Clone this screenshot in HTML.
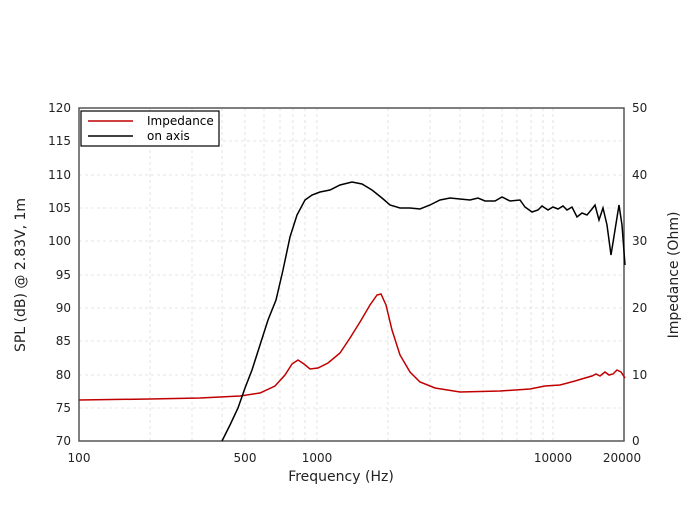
<!DOCTYPE html><html><head><style>body{margin:0;background:#fff}svg{font-family:"DejaVu Sans","Liberation Sans",sans-serif}</style></head><body>
<svg width="700" height="525" xmlns="http://www.w3.org/2000/svg">
<g stroke="#ddd" stroke-width="0.8" stroke-dasharray="3,3">
<line x1="79" y1="375" x2="624" y2="375"/><line x1="79" y1="408" x2="624" y2="408"/><line x1="79" y1="341" x2="624" y2="341"/><line x1="79" y1="308" x2="624" y2="308"/><line x1="79" y1="275" x2="624" y2="275"/><line x1="79" y1="241" x2="624" y2="241"/><line x1="79" y1="208" x2="624" y2="208"/><line x1="79" y1="175" x2="624" y2="175"/><line x1="79" y1="141" x2="624" y2="141"/>
<line x1="150" y1="108" x2="150" y2="441"/><line x1="192" y1="108" x2="192" y2="441"/><line x1="222" y1="108" x2="222" y2="441"/><line x1="245" y1="108" x2="245" y2="441"/><line x1="264" y1="108" x2="264" y2="441"/><line x1="280" y1="108" x2="280" y2="441"/><line x1="293" y1="108" x2="293" y2="441"/><line x1="305" y1="108" x2="305" y2="441"/><line x1="317" y1="108" x2="317" y2="441"/><line x1="388" y1="108" x2="388" y2="441"/><line x1="430" y1="108" x2="430" y2="441"/><line x1="460" y1="108" x2="460" y2="441"/><line x1="483" y1="108" x2="483" y2="441"/><line x1="502" y1="108" x2="502" y2="441"/><line x1="517" y1="108" x2="517" y2="441"/><line x1="531" y1="108" x2="531" y2="441"/><line x1="543" y1="108" x2="543" y2="441"/><line x1="553" y1="108" x2="553" y2="441"/>
</g>
<rect x="79" y="108" width="545" height="333" fill="none" stroke="#555" stroke-width="1.5"/>
<polyline fill="none" stroke="#c00000" stroke-width="1.5" points="79,400 150,399 200,398 240,396 260,393 275,386 285,375 292,364 298,360 304,364 310,369 318,368 328,363 340,353 350,338 360,322 370,305 377,295 381,294 386,305 392,330 400,355 410,372 420,382 435,388 460,392 500,391 530,389 545,386 560,385 575,381 585,378 592,376 596,374 600,376 605,372 609,375 613,374 617,370 621,372 625,378"/>
<polyline fill="none" stroke="#000" stroke-width="1.5" points="222,441 230,425 238,408 245,388 252,370 260,345 268,320 276,300 283,270 290,237 297,215 305,200 312,195 320,192 330,190 340,185 352,182 362,184 372,190 382,198 390,205 400,208 410,208 420,209 430,205 440,200 450,198 460,199 470,200 478,198 485,201 495,201 502,197 510,201 520,200 525,207 532,212 538,210 542,206 548,210 553,207 558,209 563,206 567,210 572,207 577,217 582,213 587,215 592,209 595,205 599,220 603,208 607,225 611,255 615,230 619,205 622,225 625,265"/>
<rect x="81" y="111" width="138" height="35" fill="#fff" stroke="#000" stroke-width="1.2"/>
<line x1="88" y1="121" x2="133" y2="121" stroke="#c00000" stroke-width="1.5"/>
<line x1="88" y1="136" x2="133" y2="136" stroke="#000" stroke-width="1.5"/>
<g font-size="12" fill="#000"><text x="147" y="125">Impedance</text><text x="147" y="140">on axis</text></g>
<g font-size="12" fill="#222" text-anchor="end">
<text x="71" y="445">70</text><text x="71" y="412">75</text><text x="71" y="379">80</text><text x="71" y="345">85</text><text x="71" y="312">90</text><text x="71" y="279">95</text><text x="71" y="245">100</text><text x="71" y="212">105</text><text x="71" y="179">110</text><text x="71" y="145">115</text><text x="71" y="112">120</text></g>
<g font-size="12" fill="#222"><text x="632" y="445">0</text><text x="632" y="379">10</text><text x="632" y="312">20</text><text x="632" y="245">30</text><text x="632" y="179">40</text><text x="632" y="112">50</text></g>
<g font-size="12" fill="#222" text-anchor="middle"><text x="79" y="462">100</text><text x="245" y="462">500</text><text x="317" y="462">1000</text><text x="553" y="462">10000</text><text x="622" y="462">20000</text></g>
<text x="341" y="481" font-size="14" text-anchor="middle" fill="#222">Frequency (Hz)</text>
<text transform="translate(25,275) rotate(-90)" font-size="14" text-anchor="middle" fill="#222">SPL (dB) @ 2.83V, 1m</text>
<text transform="translate(678,275) rotate(-90)" font-size="14" text-anchor="middle" fill="#222">Impedance (Ohm)</text>
</svg></body></html>
